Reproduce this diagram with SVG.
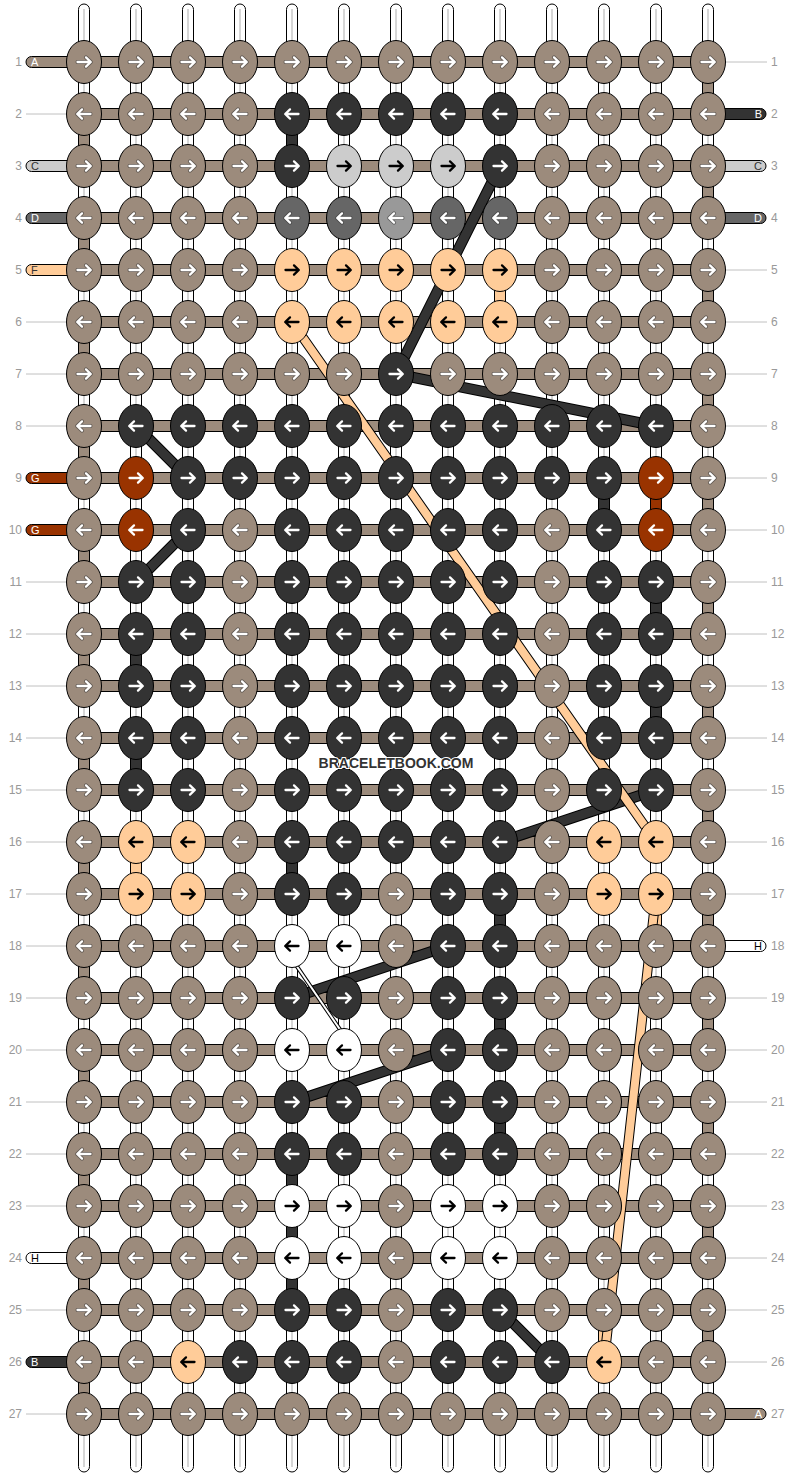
<svg xmlns="http://www.w3.org/2000/svg" xmlns:xlink="http://www.w3.org/1999/xlink" width="792" height="1476" viewBox="0 0 792 1476">
<style>
.tube{fill:#fff;stroke:#000;stroke-width:1}
.tl{stroke:#c8c8c8;stroke-width:1.5}
.band{fill:#9c8b7c;stroke:#000;stroke-width:1}
.seg{stroke:#000;stroke-width:1}
.kn{stroke:#000;stroke-width:1}
.b{fill:#9c8b7c}.k{fill:#333}.l{fill:#ccc}.m{fill:#666}.n{fill:#999}.p{fill:#ffcc99}.r{fill:#993300}.w{fill:#fff}
.ao{fill:none;stroke:#333;stroke-opacity:.55;stroke-width:4;stroke-linecap:round;stroke-linejoin:round}
.aw{fill:none;stroke:#fff;stroke-width:2.3;stroke-linecap:round;stroke-linejoin:round}
.ab{fill:none;stroke:#000;stroke-width:2.3;stroke-linecap:round;stroke-linejoin:round}
.num{font-family:"Liberation Sans",Arial,sans-serif;font-size:12px;fill:#999}
.ln{stroke:#c0c0c0;stroke-width:1}
.tab{stroke:#000;stroke-width:1}
.tt{font-family:"Liberation Sans",Arial,sans-serif;font-size:11px}
.co{fill:none;stroke-linecap:butt}
.cdo{stroke:#000;stroke-width:11}.cd{stroke:#333;stroke-width:9}
.cpo{stroke:#000;stroke-width:10}.cp{stroke:#ffcc99;stroke-width:8}
.cwo{stroke:#000;stroke-width:4}.cw{stroke:#fff;stroke-width:2}
.logo{font-family:"Liberation Sans",Arial,sans-serif;font-size:14px;font-weight:bold;fill:#333;stroke:#fff;stroke-width:2;paint-order:stroke}
</style>
<defs>
<path id="R" d="M-6.5,0H6.5M2,-4.6L6.8,0L2,4.6"/>
<path id="L" d="M6.5,0H-6.5M-2,-4.6L-6.8,0L-2,4.6"/>
<g id="bR"><ellipse class="kn b" rx="17.5" ry="21.5"/><use href="#R" class="ao"/><use href="#R" class="aw"/></g>
<g id="bL"><ellipse class="kn b" rx="17.5" ry="21.5"/><use href="#L" class="ao"/><use href="#L" class="aw"/></g>
<g id="kR"><ellipse class="kn k" rx="17.5" ry="21.5"/><use href="#R" class="aw"/></g>
<g id="kL"><ellipse class="kn k" rx="17.5" ry="21.5"/><use href="#L" class="aw"/></g>
<g id="lR"><ellipse class="kn l" rx="17.5" ry="21.5"/><use href="#R" class="ab"/></g>
<g id="mL"><ellipse class="kn m" rx="17.5" ry="21.5"/><use href="#L" class="ao"/><use href="#L" class="aw"/></g>
<g id="nL"><ellipse class="kn n" rx="17.5" ry="21.5"/><use href="#L" class="ao"/><use href="#L" class="aw"/></g>
<g id="pR"><ellipse class="kn p" rx="17.5" ry="21.5"/><use href="#R" class="ab"/></g>
<g id="pL"><ellipse class="kn p" rx="17.5" ry="21.5"/><use href="#L" class="ab"/></g>
<g id="rR"><ellipse class="kn r" rx="17.5" ry="21.5"/><use href="#R" class="aw"/></g>
<g id="rL"><ellipse class="kn r" rx="17.5" ry="21.5"/><use href="#L" class="aw"/></g>
<g id="wR"><ellipse class="kn w" rx="17.5" ry="21.5"/><use href="#R" class="ab"/></g>
<g id="wL"><ellipse class="kn w" rx="17.5" ry="21.5"/><use href="#L" class="ab"/></g>
</defs>
<rect width="792" height="1476" fill="#fff"/>
<g id="strings">
<g id="tubes">
<rect class="tube" x="78.5" y="4" width="11" height="1468" rx="5.5"/><line class="tl" x1="84" y1="9" x2="84" y2="1467"/>
<rect class="tube" x="130.5" y="4" width="11" height="1468" rx="5.5"/><line class="tl" x1="136" y1="9" x2="136" y2="1467"/>
<rect class="tube" x="182.5" y="4" width="11" height="1468" rx="5.5"/><line class="tl" x1="188" y1="9" x2="188" y2="1467"/>
<rect class="tube" x="234.5" y="4" width="11" height="1468" rx="5.5"/><line class="tl" x1="240" y1="9" x2="240" y2="1467"/>
<rect class="tube" x="286.5" y="4" width="11" height="1468" rx="5.5"/><line class="tl" x1="292" y1="9" x2="292" y2="1467"/>
<rect class="tube" x="338.5" y="4" width="11" height="1468" rx="5.5"/><line class="tl" x1="344" y1="9" x2="344" y2="1467"/>
<rect class="tube" x="390.5" y="4" width="11" height="1468" rx="5.5"/><line class="tl" x1="396" y1="9" x2="396" y2="1467"/>
<rect class="tube" x="442.5" y="4" width="11" height="1468" rx="5.5"/><line class="tl" x1="448" y1="9" x2="448" y2="1467"/>
<rect class="tube" x="494.5" y="4" width="11" height="1468" rx="5.5"/><line class="tl" x1="500" y1="9" x2="500" y2="1467"/>
<rect class="tube" x="546.5" y="4" width="11" height="1468" rx="5.5"/><line class="tl" x1="552" y1="9" x2="552" y2="1467"/>
<rect class="tube" x="598.5" y="4" width="11" height="1468" rx="5.5"/><line class="tl" x1="604" y1="9" x2="604" y2="1467"/>
<rect class="tube" x="650.5" y="4" width="11" height="1468" rx="5.5"/><line class="tl" x1="656" y1="9" x2="656" y2="1467"/>
<rect class="tube" x="702.5" y="4" width="11" height="1468" rx="5.5"/><line class="tl" x1="708" y1="9" x2="708" y2="1467"/>
</g>
<g id="bands">
<rect class="band" x="84" y="56.5" width="624" height="11"/>
<rect class="band" x="84" y="108.5" width="624" height="11"/>
<rect class="band" x="84" y="160.5" width="624" height="11"/>
<rect class="band" x="84" y="212.5" width="624" height="11"/>
<rect class="band" x="84" y="264.5" width="624" height="11"/>
<rect class="band" x="84" y="316.5" width="624" height="11"/>
<rect class="band" x="84" y="368.5" width="624" height="11"/>
<rect class="band" x="84" y="420.5" width="624" height="11"/>
<rect class="band" x="84" y="472.5" width="624" height="11"/>
<rect class="band" x="84" y="524.5" width="624" height="11"/>
<rect class="band" x="84" y="576.5" width="624" height="11"/>
<rect class="band" x="84" y="628.5" width="624" height="11"/>
<rect class="band" x="84" y="680.5" width="624" height="11"/>
<rect class="band" x="84" y="732.5" width="624" height="11"/>
<rect class="band" x="84" y="784.5" width="624" height="11"/>
<rect class="band" x="84" y="836.5" width="624" height="11"/>
<rect class="band" x="84" y="888.5" width="624" height="11"/>
<rect class="band" x="84" y="940.5" width="624" height="11"/>
<rect class="band" x="84" y="992.5" width="624" height="11"/>
<rect class="band" x="84" y="1044.5" width="624" height="11"/>
<rect class="band" x="84" y="1096.5" width="624" height="11"/>
<rect class="band" x="84" y="1148.5" width="624" height="11"/>
<rect class="band" x="84" y="1200.5" width="624" height="11"/>
<rect class="band" x="84" y="1252.5" width="624" height="11"/>
<rect class="band" x="84" y="1304.5" width="624" height="11"/>
<rect class="band" x="84" y="1356.5" width="624" height="11"/>
<rect class="band" x="84" y="1408.5" width="624" height="11"/>
</g>
<g id="tabs">
<path class="tab b" d="M70,56.5H31.5a5.5,5.5 0 0 0 0,11H70Z"/><text class="tt" x="31" y="66" fill="#fff">A</text>
<path class="tab l" d="M70,160.5H31.5a5.5,5.5 0 0 0 0,11H70Z"/><text class="tt" x="31" y="170" fill="#333">C</text>
<path class="tab m" d="M70,212.5H31.5a5.5,5.5 0 0 0 0,11H70Z"/><text class="tt" x="31" y="222" fill="#fff">D</text>
<path class="tab p" d="M70,264.5H31.5a5.5,5.5 0 0 0 0,11H70Z"/><text class="tt" x="31" y="274" fill="#333">F</text>
<path class="tab r" d="M70,472.5H31.5a5.5,5.5 0 0 0 0,11H70Z"/><text class="tt" x="31" y="482" fill="#fff">G</text>
<path class="tab r" d="M70,524.5H31.5a5.5,5.5 0 0 0 0,11H70Z"/><text class="tt" x="31" y="534" fill="#fff">G</text>
<path class="tab w" d="M70,1252.5H31.5a5.5,5.5 0 0 0 0,11H70Z"/><text class="tt" x="31" y="1262" fill="#000">H</text>
<path class="tab k" d="M70,1356.5H31.5a5.5,5.5 0 0 0 0,11H70Z"/><text class="tt" x="31" y="1366" fill="#fff">B</text>
<path class="tab k" d="M722,108.5H760.5a5.5,5.5 0 0 1 0,11H722Z"/><text class="tt" x="762" y="118" fill="#fff" text-anchor="end">B</text>
<path class="tab l" d="M722,160.5H760.5a5.5,5.5 0 0 1 0,11H722Z"/><text class="tt" x="762" y="170" fill="#333" text-anchor="end">C</text>
<path class="tab m" d="M722,212.5H760.5a5.5,5.5 0 0 1 0,11H722Z"/><text class="tt" x="762" y="222" fill="#fff" text-anchor="end">D</text>
<path class="tab w" d="M722,940.5H760.5a5.5,5.5 0 0 1 0,11H722Z"/><text class="tt" x="762" y="950" fill="#000" text-anchor="end">H</text>
<path class="tab b" d="M722,1408.5H760.5a5.5,5.5 0 0 1 0,11H722Z"/><text class="tt" x="762" y="1418" fill="#fff" text-anchor="end">A</text>
</g>
<g id="leaders">
<line class="ln" x1="26" y1="114" x2="66" y2="114"/>
<line class="ln" x1="26" y1="322" x2="66" y2="322"/>
<line class="ln" x1="26" y1="374" x2="66" y2="374"/>
<line class="ln" x1="26" y1="426" x2="66" y2="426"/>
<line class="ln" x1="26" y1="582" x2="66" y2="582"/>
<line class="ln" x1="26" y1="634" x2="66" y2="634"/>
<line class="ln" x1="26" y1="686" x2="66" y2="686"/>
<line class="ln" x1="26" y1="738" x2="66" y2="738"/>
<line class="ln" x1="26" y1="790" x2="66" y2="790"/>
<line class="ln" x1="26" y1="842" x2="66" y2="842"/>
<line class="ln" x1="26" y1="894" x2="66" y2="894"/>
<line class="ln" x1="26" y1="946" x2="66" y2="946"/>
<line class="ln" x1="26" y1="998" x2="66" y2="998"/>
<line class="ln" x1="26" y1="1050" x2="66" y2="1050"/>
<line class="ln" x1="26" y1="1102" x2="66" y2="1102"/>
<line class="ln" x1="26" y1="1154" x2="66" y2="1154"/>
<line class="ln" x1="26" y1="1206" x2="66" y2="1206"/>
<line class="ln" x1="26" y1="1310" x2="66" y2="1310"/>
<line class="ln" x1="26" y1="1414" x2="66" y2="1414"/>
<line class="ln" x1="726" y1="62" x2="767" y2="62"/>
<line class="ln" x1="726" y1="270" x2="767" y2="270"/>
<line class="ln" x1="726" y1="322" x2="767" y2="322"/>
<line class="ln" x1="726" y1="374" x2="767" y2="374"/>
<line class="ln" x1="726" y1="426" x2="767" y2="426"/>
<line class="ln" x1="726" y1="478" x2="767" y2="478"/>
<line class="ln" x1="726" y1="530" x2="767" y2="530"/>
<line class="ln" x1="726" y1="582" x2="767" y2="582"/>
<line class="ln" x1="726" y1="634" x2="767" y2="634"/>
<line class="ln" x1="726" y1="686" x2="767" y2="686"/>
<line class="ln" x1="726" y1="738" x2="767" y2="738"/>
<line class="ln" x1="726" y1="790" x2="767" y2="790"/>
<line class="ln" x1="726" y1="842" x2="767" y2="842"/>
<line class="ln" x1="726" y1="894" x2="767" y2="894"/>
<line class="ln" x1="726" y1="998" x2="767" y2="998"/>
<line class="ln" x1="726" y1="1050" x2="767" y2="1050"/>
<line class="ln" x1="726" y1="1102" x2="767" y2="1102"/>
<line class="ln" x1="726" y1="1154" x2="767" y2="1154"/>
<line class="ln" x1="726" y1="1206" x2="767" y2="1206"/>
<line class="ln" x1="726" y1="1258" x2="767" y2="1258"/>
<line class="ln" x1="726" y1="1310" x2="767" y2="1310"/>
<line class="ln" x1="726" y1="1362" x2="767" y2="1362"/>
</g>
<g id="rownums">
<text class="num" x="22" y="66" text-anchor="end">1</text><text class="num" x="771" y="66">1</text>
<text class="num" x="22" y="118" text-anchor="end">2</text><text class="num" x="771" y="118">2</text>
<text class="num" x="22" y="170" text-anchor="end">3</text><text class="num" x="771" y="170">3</text>
<text class="num" x="22" y="222" text-anchor="end">4</text><text class="num" x="771" y="222">4</text>
<text class="num" x="22" y="274" text-anchor="end">5</text><text class="num" x="771" y="274">5</text>
<text class="num" x="22" y="326" text-anchor="end">6</text><text class="num" x="771" y="326">6</text>
<text class="num" x="22" y="378" text-anchor="end">7</text><text class="num" x="771" y="378">7</text>
<text class="num" x="22" y="430" text-anchor="end">8</text><text class="num" x="771" y="430">8</text>
<text class="num" x="22" y="482" text-anchor="end">9</text><text class="num" x="771" y="482">9</text>
<text class="num" x="22" y="534" text-anchor="end">10</text><text class="num" x="771" y="534">10</text>
<text class="num" x="22" y="586" text-anchor="end">11</text><text class="num" x="771" y="586">11</text>
<text class="num" x="22" y="638" text-anchor="end">12</text><text class="num" x="771" y="638">12</text>
<text class="num" x="22" y="690" text-anchor="end">13</text><text class="num" x="771" y="690">13</text>
<text class="num" x="22" y="742" text-anchor="end">14</text><text class="num" x="771" y="742">14</text>
<text class="num" x="22" y="794" text-anchor="end">15</text><text class="num" x="771" y="794">15</text>
<text class="num" x="22" y="846" text-anchor="end">16</text><text class="num" x="771" y="846">16</text>
<text class="num" x="22" y="898" text-anchor="end">17</text><text class="num" x="771" y="898">17</text>
<text class="num" x="22" y="950" text-anchor="end">18</text><text class="num" x="771" y="950">18</text>
<text class="num" x="22" y="1002" text-anchor="end">19</text><text class="num" x="771" y="1002">19</text>
<text class="num" x="22" y="1054" text-anchor="end">20</text><text class="num" x="771" y="1054">20</text>
<text class="num" x="22" y="1106" text-anchor="end">21</text><text class="num" x="771" y="1106">21</text>
<text class="num" x="22" y="1158" text-anchor="end">22</text><text class="num" x="771" y="1158">22</text>
<text class="num" x="22" y="1210" text-anchor="end">23</text><text class="num" x="771" y="1210">23</text>
<text class="num" x="22" y="1262" text-anchor="end">24</text><text class="num" x="771" y="1262">24</text>
<text class="num" x="22" y="1314" text-anchor="end">25</text><text class="num" x="771" y="1314">25</text>
<text class="num" x="22" y="1366" text-anchor="end">26</text><text class="num" x="771" y="1366">26</text>
<text class="num" x="22" y="1418" text-anchor="end">27</text><text class="num" x="771" y="1418">27</text>
</g>
</g>
<g id="connectors">
<g id="turns">
<rect class="seg b" x="78.5" y="130" width="11" height="20"/>
<rect class="seg b" x="78.5" y="234" width="11" height="20"/>
<rect class="seg b" x="78.5" y="338" width="11" height="20"/>
<rect class="seg b" x="78.5" y="442" width="11" height="20"/>
<rect class="seg b" x="78.5" y="546" width="11" height="20"/>
<rect class="seg b" x="78.5" y="650" width="11" height="20"/>
<rect class="seg b" x="78.5" y="754" width="11" height="20"/>
<rect class="seg b" x="78.5" y="858" width="11" height="20"/>
<rect class="seg b" x="78.5" y="962" width="11" height="20"/>
<rect class="seg b" x="78.5" y="1066" width="11" height="20"/>
<rect class="seg b" x="78.5" y="1170" width="11" height="20"/>
<rect class="seg b" x="78.5" y="1274" width="11" height="20"/>
<rect class="seg b" x="78.5" y="1378" width="11" height="20"/>
<rect class="seg b" x="702.5" y="78" width="11" height="20"/>
<rect class="seg b" x="702.5" y="182" width="11" height="20"/>
<rect class="seg b" x="702.5" y="286" width="11" height="20"/>
<rect class="seg b" x="702.5" y="390" width="11" height="20"/>
<rect class="seg b" x="702.5" y="494" width="11" height="20"/>
<rect class="seg b" x="702.5" y="598" width="11" height="20"/>
<rect class="seg b" x="702.5" y="702" width="11" height="20"/>
<rect class="seg b" x="702.5" y="806" width="11" height="20"/>
<rect class="seg b" x="702.5" y="910" width="11" height="20"/>
<rect class="seg b" x="702.5" y="1014" width="11" height="20"/>
<rect class="seg b" x="702.5" y="1118" width="11" height="20"/>
<rect class="seg b" x="702.5" y="1222" width="11" height="20"/>
<rect class="seg b" x="702.5" y="1326" width="11" height="20"/>
<rect class="seg k" x="286.5" y="130" width="11" height="20"/>
<rect class="seg p" x="494.5" y="286" width="11" height="20"/>
<rect class="seg k" x="598.5" y="494" width="11" height="20"/>
<rect class="seg r" x="650.5" y="494" width="11" height="20"/>
<rect class="seg k" x="650.5" y="598" width="11" height="20"/>
<rect class="seg k" x="130.5" y="650" width="11" height="20"/>
<rect class="seg k" x="650.5" y="702" width="11" height="20"/>
<rect class="seg k" x="130.5" y="754" width="11" height="20"/>
<rect class="seg p" x="130.5" y="858" width="11" height="20"/>
<rect class="seg k" x="286.5" y="858" width="11" height="20"/>
<rect class="seg k" x="494.5" y="910" width="11" height="20"/>
<rect class="seg p" x="650.5" y="910" width="11" height="20"/>
<rect class="seg k" x="494.5" y="1014" width="11" height="20"/>
<rect class="seg k" x="494.5" y="1118" width="11" height="20"/>
<rect class="seg k" x="286.5" y="1170" width="11" height="20"/>
<rect class="seg k" x="286.5" y="1222" width="11" height="20"/>
<rect class="seg k" x="286.5" y="1274" width="11" height="20"/>
<rect class="seg p" x="598.5" y="1326" width="11" height="20"/>
</g>
<g id="links">
<path class="co cdo" d="M500,166L396,374L656,426M136,426L188,478M188,530L136,582M656,790L500,842M448,946L292,998M448,1050L292,1102M500,1310L552,1362"/>
<path class="co cd" d="M500,166L396,374L656,426M136,426L188,478M188,530L136,582M656,790L500,842M448,946L292,998M448,1050L292,1102M500,1310L552,1362"/>
<path class="co cpo" d="M292,322L656,842M656,894L604,1362"/>
<path class="co cp" d="M292,322L656,842M656,894L604,1362"/>
<path class="co cwo" d="M283,946L354,1050"/>
<path class="co cw" d="M283,946L354,1050"/>
</g>
</g>
<g id="knots">
<g id="row1" transform="translate(0,62)">
<g id="r1c1"><use href="#bR" x="84"/></g><g id="r1c2"><use href="#bR" x="136"/></g><g id="r1c3"><use href="#bR" x="188"/></g><g id="r1c4"><use href="#bR" x="240"/></g><g id="r1c5"><use href="#bR" x="292"/></g><g id="r1c6"><use href="#bR" x="344"/></g><g id="r1c7"><use href="#bR" x="396"/></g><g id="r1c8"><use href="#bR" x="448"/></g><g id="r1c9"><use href="#bR" x="500"/></g><g id="r1c10"><use href="#bR" x="552"/></g><g id="r1c11"><use href="#bR" x="604"/></g><g id="r1c12"><use href="#bR" x="656"/></g><g id="r1c13"><use href="#bR" x="708"/></g>
</g>
<g id="row2" transform="translate(0,114)">
<g id="r2c1"><use href="#bL" x="84"/></g><g id="r2c2"><use href="#bL" x="136"/></g><g id="r2c3"><use href="#bL" x="188"/></g><g id="r2c4"><use href="#bL" x="240"/></g><g id="r2c5"><use href="#kL" x="292"/></g><g id="r2c6"><use href="#kL" x="344"/></g><g id="r2c7"><use href="#kL" x="396"/></g><g id="r2c8"><use href="#kL" x="448"/></g><g id="r2c9"><use href="#kL" x="500"/></g><g id="r2c10"><use href="#bL" x="552"/></g><g id="r2c11"><use href="#bL" x="604"/></g><g id="r2c12"><use href="#bL" x="656"/></g><g id="r2c13"><use href="#bL" x="708"/></g>
</g>
<g id="row3" transform="translate(0,166)">
<g id="r3c1"><use href="#bR" x="84"/></g><g id="r3c2"><use href="#bR" x="136"/></g><g id="r3c3"><use href="#bR" x="188"/></g><g id="r3c4"><use href="#bR" x="240"/></g><g id="r3c5"><use href="#kR" x="292"/></g><g id="r3c6"><use href="#lR" x="344"/></g><g id="r3c7"><use href="#lR" x="396"/></g><g id="r3c8"><use href="#lR" x="448"/></g><g id="r3c9"><use href="#kR" x="500"/></g><g id="r3c10"><use href="#bR" x="552"/></g><g id="r3c11"><use href="#bR" x="604"/></g><g id="r3c12"><use href="#bR" x="656"/></g><g id="r3c13"><use href="#bR" x="708"/></g>
</g>
<g id="row4" transform="translate(0,218)">
<g id="r4c1"><use href="#bL" x="84"/></g><g id="r4c2"><use href="#bL" x="136"/></g><g id="r4c3"><use href="#bL" x="188"/></g><g id="r4c4"><use href="#bL" x="240"/></g><g id="r4c5"><use href="#mL" x="292"/></g><g id="r4c6"><use href="#mL" x="344"/></g><g id="r4c7"><use href="#nL" x="396"/></g><g id="r4c8"><use href="#mL" x="448"/></g><g id="r4c9"><use href="#mL" x="500"/></g><g id="r4c10"><use href="#bL" x="552"/></g><g id="r4c11"><use href="#bL" x="604"/></g><g id="r4c12"><use href="#bL" x="656"/></g><g id="r4c13"><use href="#bL" x="708"/></g>
</g>
<g id="row5" transform="translate(0,270)">
<g id="r5c1"><use href="#bR" x="84"/></g><g id="r5c2"><use href="#bR" x="136"/></g><g id="r5c3"><use href="#bR" x="188"/></g><g id="r5c4"><use href="#bR" x="240"/></g><g id="r5c5"><use href="#pR" x="292"/></g><g id="r5c6"><use href="#pR" x="344"/></g><g id="r5c7"><use href="#pR" x="396"/></g><g id="r5c8"><use href="#pR" x="448"/></g><g id="r5c9"><use href="#pR" x="500"/></g><g id="r5c10"><use href="#bR" x="552"/></g><g id="r5c11"><use href="#bR" x="604"/></g><g id="r5c12"><use href="#bR" x="656"/></g><g id="r5c13"><use href="#bR" x="708"/></g>
</g>
<g id="row6" transform="translate(0,322)">
<g id="r6c1"><use href="#bL" x="84"/></g><g id="r6c2"><use href="#bL" x="136"/></g><g id="r6c3"><use href="#bL" x="188"/></g><g id="r6c4"><use href="#bL" x="240"/></g><g id="r6c5"><use href="#pL" x="292"/></g><g id="r6c6"><use href="#pL" x="344"/></g><g id="r6c7"><use href="#pL" x="396"/></g><g id="r6c8"><use href="#pL" x="448"/></g><g id="r6c9"><use href="#pL" x="500"/></g><g id="r6c10"><use href="#bL" x="552"/></g><g id="r6c11"><use href="#bL" x="604"/></g><g id="r6c12"><use href="#bL" x="656"/></g><g id="r6c13"><use href="#bL" x="708"/></g>
</g>
<g id="row7" transform="translate(0,374)">
<g id="r7c1"><use href="#bR" x="84"/></g><g id="r7c2"><use href="#bR" x="136"/></g><g id="r7c3"><use href="#bR" x="188"/></g><g id="r7c4"><use href="#bR" x="240"/></g><g id="r7c5"><use href="#bR" x="292"/></g><g id="r7c6"><use href="#bR" x="344"/></g><g id="r7c7"><use href="#kR" x="396"/></g><g id="r7c8"><use href="#bR" x="448"/></g><g id="r7c9"><use href="#bR" x="500"/></g><g id="r7c10"><use href="#bR" x="552"/></g><g id="r7c11"><use href="#bR" x="604"/></g><g id="r7c12"><use href="#bR" x="656"/></g><g id="r7c13"><use href="#bR" x="708"/></g>
</g>
<g id="row8" transform="translate(0,426)">
<g id="r8c1"><use href="#bL" x="84"/></g><g id="r8c2"><use href="#kL" x="136"/></g><g id="r8c3"><use href="#kL" x="188"/></g><g id="r8c4"><use href="#kL" x="240"/></g><g id="r8c5"><use href="#kL" x="292"/></g><g id="r8c6"><use href="#kL" x="344"/></g><g id="r8c7"><use href="#kL" x="396"/></g><g id="r8c8"><use href="#kL" x="448"/></g><g id="r8c9"><use href="#kL" x="500"/></g><g id="r8c10"><use href="#kL" x="552"/></g><g id="r8c11"><use href="#kL" x="604"/></g><g id="r8c12"><use href="#kL" x="656"/></g><g id="r8c13"><use href="#bL" x="708"/></g>
</g>
<g id="row9" transform="translate(0,478)">
<g id="r9c1"><use href="#bR" x="84"/></g><g id="r9c2"><use href="#rR" x="136"/></g><g id="r9c3"><use href="#kR" x="188"/></g><g id="r9c4"><use href="#kR" x="240"/></g><g id="r9c5"><use href="#kR" x="292"/></g><g id="r9c6"><use href="#kR" x="344"/></g><g id="r9c7"><use href="#kR" x="396"/></g><g id="r9c8"><use href="#kR" x="448"/></g><g id="r9c9"><use href="#kR" x="500"/></g><g id="r9c10"><use href="#kR" x="552"/></g><g id="r9c11"><use href="#kR" x="604"/></g><g id="r9c12"><use href="#rR" x="656"/></g><g id="r9c13"><use href="#bR" x="708"/></g>
</g>
<g id="row10" transform="translate(0,530)">
<g id="r10c1"><use href="#bL" x="84"/></g><g id="r10c2"><use href="#rL" x="136"/></g><g id="r10c3"><use href="#kL" x="188"/></g><g id="r10c4"><use href="#bL" x="240"/></g><g id="r10c5"><use href="#kL" x="292"/></g><g id="r10c6"><use href="#kL" x="344"/></g><g id="r10c7"><use href="#kL" x="396"/></g><g id="r10c8"><use href="#kL" x="448"/></g><g id="r10c9"><use href="#kL" x="500"/></g><g id="r10c10"><use href="#bL" x="552"/></g><g id="r10c11"><use href="#kL" x="604"/></g><g id="r10c12"><use href="#rL" x="656"/></g><g id="r10c13"><use href="#bL" x="708"/></g>
</g>
<g id="row11" transform="translate(0,582)">
<g id="r11c1"><use href="#bR" x="84"/></g><g id="r11c2"><use href="#kR" x="136"/></g><g id="r11c3"><use href="#kR" x="188"/></g><g id="r11c4"><use href="#bR" x="240"/></g><g id="r11c5"><use href="#kR" x="292"/></g><g id="r11c6"><use href="#kR" x="344"/></g><g id="r11c7"><use href="#kR" x="396"/></g><g id="r11c8"><use href="#kR" x="448"/></g><g id="r11c9"><use href="#kR" x="500"/></g><g id="r11c10"><use href="#bR" x="552"/></g><g id="r11c11"><use href="#kR" x="604"/></g><g id="r11c12"><use href="#kR" x="656"/></g><g id="r11c13"><use href="#bR" x="708"/></g>
</g>
<g id="row12" transform="translate(0,634)">
<g id="r12c1"><use href="#bL" x="84"/></g><g id="r12c2"><use href="#kL" x="136"/></g><g id="r12c3"><use href="#kL" x="188"/></g><g id="r12c4"><use href="#bL" x="240"/></g><g id="r12c5"><use href="#kL" x="292"/></g><g id="r12c6"><use href="#kL" x="344"/></g><g id="r12c7"><use href="#kL" x="396"/></g><g id="r12c8"><use href="#kL" x="448"/></g><g id="r12c9"><use href="#kL" x="500"/></g><g id="r12c10"><use href="#bL" x="552"/></g><g id="r12c11"><use href="#kL" x="604"/></g><g id="r12c12"><use href="#kL" x="656"/></g><g id="r12c13"><use href="#bL" x="708"/></g>
</g>
<g id="row13" transform="translate(0,686)">
<g id="r13c1"><use href="#bR" x="84"/></g><g id="r13c2"><use href="#kR" x="136"/></g><g id="r13c3"><use href="#kR" x="188"/></g><g id="r13c4"><use href="#bR" x="240"/></g><g id="r13c5"><use href="#kR" x="292"/></g><g id="r13c6"><use href="#kR" x="344"/></g><g id="r13c7"><use href="#kR" x="396"/></g><g id="r13c8"><use href="#kR" x="448"/></g><g id="r13c9"><use href="#kR" x="500"/></g><g id="r13c10"><use href="#bR" x="552"/></g><g id="r13c11"><use href="#kR" x="604"/></g><g id="r13c12"><use href="#kR" x="656"/></g><g id="r13c13"><use href="#bR" x="708"/></g>
</g>
<g id="row14" transform="translate(0,738)">
<g id="r14c1"><use href="#bL" x="84"/></g><g id="r14c2"><use href="#kL" x="136"/></g><g id="r14c3"><use href="#kL" x="188"/></g><g id="r14c4"><use href="#bL" x="240"/></g><g id="r14c5"><use href="#kL" x="292"/></g><g id="r14c6"><use href="#kL" x="344"/></g><g id="r14c7"><use href="#kL" x="396"/></g><g id="r14c8"><use href="#kL" x="448"/></g><g id="r14c9"><use href="#kL" x="500"/></g><g id="r14c10"><use href="#bL" x="552"/></g><g id="r14c11"><use href="#kL" x="604"/></g><g id="r14c12"><use href="#kL" x="656"/></g><g id="r14c13"><use href="#bL" x="708"/></g>
</g>
<g id="row15" transform="translate(0,790)">
<g id="r15c1"><use href="#bR" x="84"/></g><g id="r15c2"><use href="#kR" x="136"/></g><g id="r15c3"><use href="#kR" x="188"/></g><g id="r15c4"><use href="#bR" x="240"/></g><g id="r15c5"><use href="#kR" x="292"/></g><g id="r15c6"><use href="#kR" x="344"/></g><g id="r15c7"><use href="#kR" x="396"/></g><g id="r15c8"><use href="#kR" x="448"/></g><g id="r15c9"><use href="#kR" x="500"/></g><g id="r15c10"><use href="#bR" x="552"/></g><g id="r15c11"><use href="#kR" x="604"/></g><g id="r15c12"><use href="#kR" x="656"/></g><g id="r15c13"><use href="#bR" x="708"/></g>
</g>
<g id="row16" transform="translate(0,842)">
<g id="r16c1"><use href="#bL" x="84"/></g><g id="r16c2"><use href="#pL" x="136"/></g><g id="r16c3"><use href="#pL" x="188"/></g><g id="r16c4"><use href="#bL" x="240"/></g><g id="r16c5"><use href="#kL" x="292"/></g><g id="r16c6"><use href="#kL" x="344"/></g><g id="r16c7"><use href="#kL" x="396"/></g><g id="r16c8"><use href="#kL" x="448"/></g><g id="r16c9"><use href="#kL" x="500"/></g><g id="r16c10"><use href="#bL" x="552"/></g><g id="r16c11"><use href="#pL" x="604"/></g><g id="r16c12"><use href="#pL" x="656"/></g><g id="r16c13"><use href="#bL" x="708"/></g>
</g>
<g id="row17" transform="translate(0,894)">
<g id="r17c1"><use href="#bR" x="84"/></g><g id="r17c2"><use href="#pR" x="136"/></g><g id="r17c3"><use href="#pR" x="188"/></g><g id="r17c4"><use href="#bR" x="240"/></g><g id="r17c5"><use href="#kR" x="292"/></g><g id="r17c6"><use href="#kR" x="344"/></g><g id="r17c7"><use href="#bR" x="396"/></g><g id="r17c8"><use href="#kR" x="448"/></g><g id="r17c9"><use href="#kR" x="500"/></g><g id="r17c10"><use href="#bR" x="552"/></g><g id="r17c11"><use href="#pR" x="604"/></g><g id="r17c12"><use href="#pR" x="656"/></g><g id="r17c13"><use href="#bR" x="708"/></g>
</g>
<g id="row18" transform="translate(0,946)">
<g id="r18c1"><use href="#bL" x="84"/></g><g id="r18c2"><use href="#bL" x="136"/></g><g id="r18c3"><use href="#bL" x="188"/></g><g id="r18c4"><use href="#bL" x="240"/></g><g id="r18c5"><use href="#wL" x="292"/></g><g id="r18c6"><use href="#wL" x="344"/></g><g id="r18c7"><use href="#bL" x="396"/></g><g id="r18c8"><use href="#kL" x="448"/></g><g id="r18c9"><use href="#kL" x="500"/></g><g id="r18c10"><use href="#bL" x="552"/></g><g id="r18c11"><use href="#bL" x="604"/></g><g id="r18c12"><use href="#bL" x="656"/></g><g id="r18c13"><use href="#bL" x="708"/></g>
</g>
<g id="row19" transform="translate(0,998)">
<g id="r19c1"><use href="#bR" x="84"/></g><g id="r19c2"><use href="#bR" x="136"/></g><g id="r19c3"><use href="#bR" x="188"/></g><g id="r19c4"><use href="#bR" x="240"/></g><g id="r19c5"><use href="#kR" x="292"/></g><g id="r19c6"><use href="#kR" x="344"/></g><g id="r19c7"><use href="#bR" x="396"/></g><g id="r19c8"><use href="#kR" x="448"/></g><g id="r19c9"><use href="#kR" x="500"/></g><g id="r19c10"><use href="#bR" x="552"/></g><g id="r19c11"><use href="#bR" x="604"/></g><g id="r19c12"><use href="#bR" x="656"/></g><g id="r19c13"><use href="#bR" x="708"/></g>
</g>
<g id="row20" transform="translate(0,1050)">
<g id="r20c1"><use href="#bL" x="84"/></g><g id="r20c2"><use href="#bL" x="136"/></g><g id="r20c3"><use href="#bL" x="188"/></g><g id="r20c4"><use href="#bL" x="240"/></g><g id="r20c5"><use href="#wL" x="292"/></g><g id="r20c6"><use href="#wL" x="344"/></g><g id="r20c7"><use href="#bL" x="396"/></g><g id="r20c8"><use href="#kL" x="448"/></g><g id="r20c9"><use href="#kL" x="500"/></g><g id="r20c10"><use href="#bL" x="552"/></g><g id="r20c11"><use href="#bL" x="604"/></g><g id="r20c12"><use href="#bL" x="656"/></g><g id="r20c13"><use href="#bL" x="708"/></g>
</g>
<g id="row21" transform="translate(0,1102)">
<g id="r21c1"><use href="#bR" x="84"/></g><g id="r21c2"><use href="#bR" x="136"/></g><g id="r21c3"><use href="#bR" x="188"/></g><g id="r21c4"><use href="#bR" x="240"/></g><g id="r21c5"><use href="#kR" x="292"/></g><g id="r21c6"><use href="#kR" x="344"/></g><g id="r21c7"><use href="#bR" x="396"/></g><g id="r21c8"><use href="#kR" x="448"/></g><g id="r21c9"><use href="#kR" x="500"/></g><g id="r21c10"><use href="#bR" x="552"/></g><g id="r21c11"><use href="#bR" x="604"/></g><g id="r21c12"><use href="#bR" x="656"/></g><g id="r21c13"><use href="#bR" x="708"/></g>
</g>
<g id="row22" transform="translate(0,1154)">
<g id="r22c1"><use href="#bL" x="84"/></g><g id="r22c2"><use href="#bL" x="136"/></g><g id="r22c3"><use href="#bL" x="188"/></g><g id="r22c4"><use href="#bL" x="240"/></g><g id="r22c5"><use href="#kL" x="292"/></g><g id="r22c6"><use href="#kL" x="344"/></g><g id="r22c7"><use href="#bL" x="396"/></g><g id="r22c8"><use href="#kL" x="448"/></g><g id="r22c9"><use href="#kL" x="500"/></g><g id="r22c10"><use href="#bL" x="552"/></g><g id="r22c11"><use href="#bL" x="604"/></g><g id="r22c12"><use href="#bL" x="656"/></g><g id="r22c13"><use href="#bL" x="708"/></g>
</g>
<g id="row23" transform="translate(0,1206)">
<g id="r23c1"><use href="#bR" x="84"/></g><g id="r23c2"><use href="#bR" x="136"/></g><g id="r23c3"><use href="#bR" x="188"/></g><g id="r23c4"><use href="#bR" x="240"/></g><g id="r23c5"><use href="#wR" x="292"/></g><g id="r23c6"><use href="#wR" x="344"/></g><g id="r23c7"><use href="#bR" x="396"/></g><g id="r23c8"><use href="#wR" x="448"/></g><g id="r23c9"><use href="#wR" x="500"/></g><g id="r23c10"><use href="#bR" x="552"/></g><g id="r23c11"><use href="#bR" x="604"/></g><g id="r23c12"><use href="#bR" x="656"/></g><g id="r23c13"><use href="#bR" x="708"/></g>
</g>
<g id="row24" transform="translate(0,1258)">
<g id="r24c1"><use href="#bL" x="84"/></g><g id="r24c2"><use href="#bL" x="136"/></g><g id="r24c3"><use href="#bL" x="188"/></g><g id="r24c4"><use href="#bL" x="240"/></g><g id="r24c5"><use href="#wL" x="292"/></g><g id="r24c6"><use href="#wL" x="344"/></g><g id="r24c7"><use href="#bL" x="396"/></g><g id="r24c8"><use href="#wL" x="448"/></g><g id="r24c9"><use href="#wL" x="500"/></g><g id="r24c10"><use href="#bL" x="552"/></g><g id="r24c11"><use href="#bL" x="604"/></g><g id="r24c12"><use href="#bL" x="656"/></g><g id="r24c13"><use href="#bL" x="708"/></g>
</g>
<g id="row25" transform="translate(0,1310)">
<g id="r25c1"><use href="#bR" x="84"/></g><g id="r25c2"><use href="#bR" x="136"/></g><g id="r25c3"><use href="#bR" x="188"/></g><g id="r25c4"><use href="#bR" x="240"/></g><g id="r25c5"><use href="#kR" x="292"/></g><g id="r25c6"><use href="#kR" x="344"/></g><g id="r25c7"><use href="#bR" x="396"/></g><g id="r25c8"><use href="#kR" x="448"/></g><g id="r25c9"><use href="#kR" x="500"/></g><g id="r25c10"><use href="#bR" x="552"/></g><g id="r25c11"><use href="#bR" x="604"/></g><g id="r25c12"><use href="#bR" x="656"/></g><g id="r25c13"><use href="#bR" x="708"/></g>
</g>
<g id="row26" transform="translate(0,1362)">
<g id="r26c1"><use href="#bL" x="84"/></g><g id="r26c2"><use href="#bL" x="136"/></g><g id="r26c3"><use href="#pL" x="188"/></g><g id="r26c4"><use href="#kL" x="240"/></g><g id="r26c5"><use href="#kL" x="292"/></g><g id="r26c6"><use href="#kL" x="344"/></g><g id="r26c7"><use href="#bL" x="396"/></g><g id="r26c8"><use href="#kL" x="448"/></g><g id="r26c9"><use href="#kL" x="500"/></g><g id="r26c10"><use href="#kL" x="552"/></g><g id="r26c11"><use href="#pL" x="604"/></g><g id="r26c12"><use href="#bL" x="656"/></g><g id="r26c13"><use href="#bL" x="708"/></g>
</g>
<g id="row27" transform="translate(0,1414)">
<g id="r27c1"><use href="#bR" x="84"/></g><g id="r27c2"><use href="#bR" x="136"/></g><g id="r27c3"><use href="#bR" x="188"/></g><g id="r27c4"><use href="#bR" x="240"/></g><g id="r27c5"><use href="#bR" x="292"/></g><g id="r27c6"><use href="#bR" x="344"/></g><g id="r27c7"><use href="#bR" x="396"/></g><g id="r27c8"><use href="#bR" x="448"/></g><g id="r27c9"><use href="#bR" x="500"/></g><g id="r27c10"><use href="#bR" x="552"/></g><g id="r27c11"><use href="#bR" x="604"/></g><g id="r27c12"><use href="#bR" x="656"/></g><g id="r27c13"><use href="#bR" x="708"/></g>
</g>
</g>
<text id="watermark" class="logo" x="396" y="768" text-anchor="middle">BRACELETBOOK.COM</text>
</svg>
